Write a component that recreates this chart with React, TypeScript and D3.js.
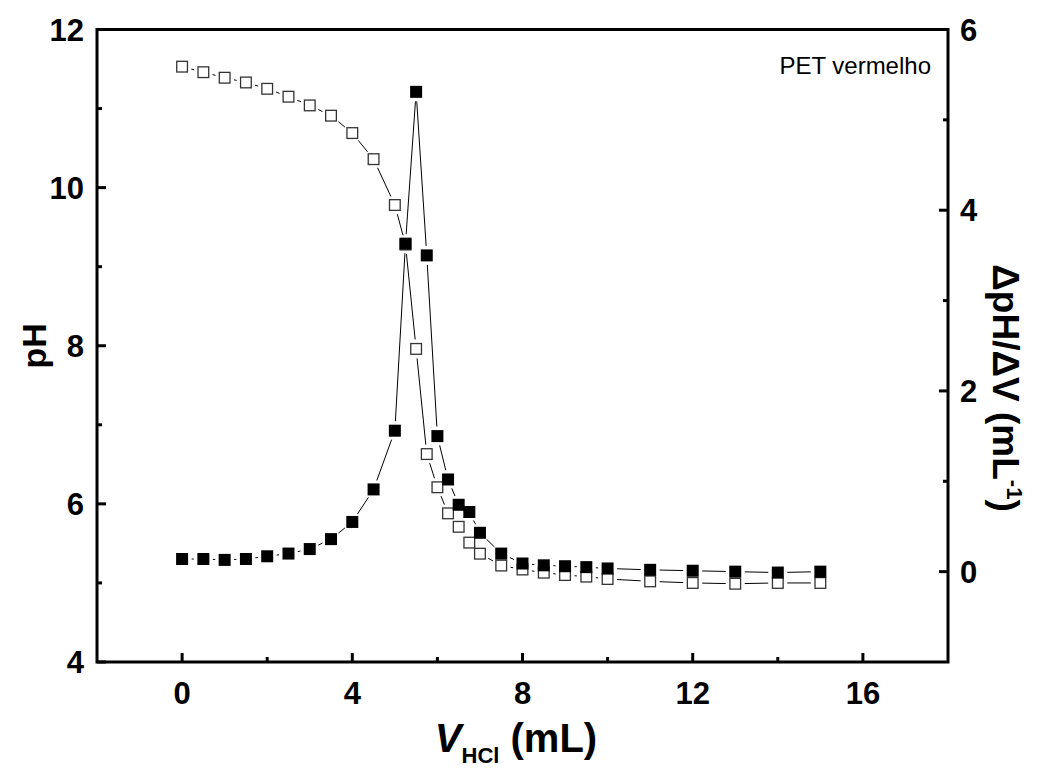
import React from "react";
import * as d3 from "d3";

// titration volumes (mL) and measured pH
const volumes = [0, 0.5, 1, 1.5, 2, 2.5, 3, 3.5, 4, 4.5, 5, 5.25, 5.5, 5.75, 6, 6.25, 6.5, 6.75, 7, 7.5, 8, 8.5, 9, 9.5, 10, 11, 12, 13, 14, 15];
const pHValues = [11.53, 11.46, 11.39, 11.33, 11.25, 11.15, 11.04, 10.91, 10.69, 10.36, 9.78, 9.28, 7.96, 6.63, 6.21, 5.88, 5.71, 5.51, 5.37, 5.22, 5.17, 5.13, 5.1, 5.08, 5.05, 5.02, 5.0, 4.99, 5.0, 5.0];
// first derivative dpH/dV
const derivValues = [0.14, 0.14, 0.13, 0.14, 0.17, 0.2, 0.25, 0.36, 0.55, 0.91, 1.56, 3.63, 5.31, 3.5, 1.5, 1.02, 0.74, 0.66, 0.43, 0.2, 0.09, 0.07, 0.06, 0.05, 0.035, 0.02, 0.01, 0.0, -0.01, 0.0];

const xTicks = [0, 4, 8, 12, 16];
const xMinorTicks = [2, 6, 10, 14];
const pHTicks = [4, 6, 8, 10, 12];
const pHMinorTicks = [5, 7, 9, 11];
const dTicks = [0, 2, 4, 6];
const dMinorTicks = [1, 3, 5];

const W = 1041;
const H = 769;
const margin = { left: 97, right: 93, top: 29.5, bottom: 107 };
const FONT = "'Liberation Sans', Arial, Helvetica, sans-serif";

type Pt = { x: number; y: number };

// Origin style: line segments stop short of the symbols
function gappedSegments(pts: Pt[], gap: number) {
  const segs: [Pt, Pt][] = [];
  for (let i = 0; i < pts.length - 1; i++) {
    const a = pts[i];
    const b = pts[i + 1];
    const dx = b.x - a.x;
    const dy = b.y - a.y;
    const len = Math.sqrt(dx * dx + dy * dy);
    if (len <= 2 * gap + 0.5) continue;
    const ux = dx / len;
    const uy = dy / len;
    segs.push([
      { x: a.x + ux * gap, y: a.y + uy * gap },
      { x: b.x - ux * gap, y: b.y - uy * gap },
    ]);
  }
  return segs;
}

export default function App() {
  const x0 = margin.left;
  const x1 = W - margin.right;
  const y0 = margin.top;
  const y1 = H - margin.bottom;

  const xScale = d3.scaleLinear().domain([-2, 18]).range([x0, x1]);
  const yLeft = d3.scaleLinear().domain([4, 12]).range([y1, y0]);
  const yRight = d3.scaleLinear().domain([-1, 6]).range([y1, y0]);

  const line = d3.line<Pt>().x(d => d.x).y(d => d.y);

  const pHPts = volumes.map((v, i) => ({ x: xScale(v), y: yLeft(pHValues[i]) }));
  const dPts = volumes.map((v, i) => ({ x: xScale(v), y: yRight(derivValues[i]) }));

  const gap = 9.5;
  const size = 12;
  const major = 9;
  const minor = 5;

  return (
    <svg width={W} height={H} style={{ position: "absolute", left: 0, top: 0, background: "#fff" }} fontFamily={FONT}>
      {/* pH curve (open squares) */}
      <g stroke="#000" strokeWidth={1} fill="none">
        {gappedSegments(pHPts, gap).map((s, i) => (
          <path key={i} d={line(s) || ""} />
        ))}
      </g>
      <g fill="#fff" stroke="#333" strokeWidth={1.3}>
        {pHPts.map((p, i) => (
          <rect key={i} x={p.x - (size - 1.3) / 2} y={p.y - (size - 1.3) / 2} width={size - 1.3} height={size - 1.3} />
        ))}
      </g>

      {/* derivative curve (filled squares) */}
      <g stroke="#000" strokeWidth={1} fill="none">
        {gappedSegments(dPts, gap).map((s, i) => (
          <path key={i} d={line(s) || ""} />
        ))}
      </g>
      <g fill="#000">
        {dPts.map((p, i) => (
          <rect key={i} x={p.x - size / 2} y={p.y - size / 2} width={size} height={size} />
        ))}
      </g>

      {/* frame */}
      <rect x={x0} y={y0} width={x1 - x0} height={y1 - y0} fill="none" stroke="#000" strokeWidth={3} />

      {/* ticks, all pointing inward */}
      <g stroke="#000" strokeWidth={3}>
        {xTicks.map(t => (
          <line key={"xm" + t} x1={xScale(t)} x2={xScale(t)} y1={y1} y2={y1 - major} />
        ))}
        {xMinorTicks.map(t => (
          <line key={"xn" + t} x1={xScale(t)} x2={xScale(t)} y1={y1} y2={y1 - minor} />
        ))}
        {pHTicks.map(t => (
          <line key={"lm" + t} x1={x0} x2={x0 + major} y1={yLeft(t)} y2={yLeft(t)} />
        ))}
        {pHMinorTicks.map(t => (
          <line key={"ln" + t} x1={x0} x2={x0 + minor} y1={yLeft(t)} y2={yLeft(t)} />
        ))}
        {dTicks.map(t => (
          <line key={"rm" + t} x1={x1} x2={x1 - major} y1={yRight(t)} y2={yRight(t)} />
        ))}
        {dMinorTicks.map(t => (
          <line key={"rn" + t} x1={x1} x2={x1 - minor} y1={yRight(t)} y2={yRight(t)} />
        ))}
      </g>

      {/* tick labels */}
      <g fontSize={31} fontWeight="bold" fill="#000">
        {xTicks.map(t => (
          <text key={"xl" + t} x={xScale(t)} y={y1 + 42} textAnchor="middle">{t}</text>
        ))}
        {pHTicks.map(t => (
          <text key={"ll" + t} x={x0 - 13} y={yLeft(t)} dy="0.36em" textAnchor="end">{t}</text>
        ))}
        {dTicks.map(t => (
          <text key={"rl" + t} x={x1 + 12} y={yRight(t)} dy="0.36em" textAnchor="start">{t}</text>
        ))}
      </g>

      {/* axis titles */}
      <text x={516} y={752} textAnchor="middle" fontSize={40} fontWeight="bold">
        <tspan fontStyle="italic">V</tspan>
        <tspan fontSize={22} dy={11}>HCl</tspan>
        <tspan dy={-11}> (mL)</tspan>
      </text>
      <text transform={`translate(46,${(y0 + y1) / 2}) rotate(-90)`} textAnchor="middle" fontSize={34} fontWeight="bold">pH</text>
      <text transform={`translate(993,388) rotate(90)`} textAnchor="middle" fontSize={37} fontWeight="bold">
        ΔpH/ΔV (mL<tspan fontSize={22} dy={-14}>-1</tspan><tspan dy={14}>)</tspan>
      </text>

      <text x={931} y={74} textAnchor="end" fontSize={24}>PET vermelho</text>
    </svg>
  );
}
